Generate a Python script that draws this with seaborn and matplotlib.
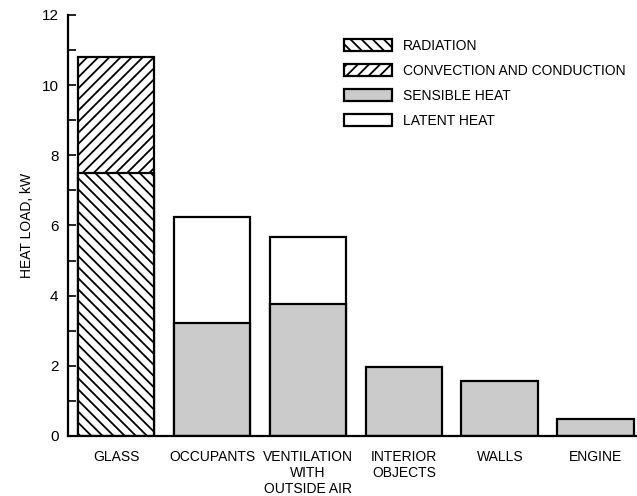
import numpy as np
import pandas as pd
import matplotlib
matplotlib.use("Agg")
import matplotlib.pyplot as plt
from matplotlib.patches import Patch
from matplotlib.ticker import MultipleLocator
import seaborn as sns

# --- DATA ---
categories = ["GLASS", "OCCUPANTS", "VENTILATION\nWITH\nOUTSIDE AIR",
              "INTERIOR\nOBJECTS", "WALLS", "ENGINE"]
lower_values = [7.5, 3.22, 3.75, 1.98, 1.58, 0.48]   # radiation (glass) / sensible heat
upper_values = [3.3, 3.02, 1.93, 0.0, 0.0, 0.0]      # convection+conduction (glass) / latent heat

legend_labels = ["RADIATION", "CONVECTION AND CONDUCTION", "SENSIBLE HEAT", "LATENT HEAT"]

sns.set_style("ticks")
plt.rcParams['font.family'] = ['Liberation Sans Narrow', 'Liberation Sans', 'DejaVu Sans']
plt.rcParams['hatch.linewidth'] = 1.3
for key in ["text.color", "axes.labelcolor", "xtick.color", "ytick.color", "axes.edgecolor"]:
    plt.rcParams[key] = "black"

df = pd.DataFrame({
    "category": categories,
    "lower": lower_values,
    "total": np.array(lower_values) + np.array(upper_values),
})

GRAY = "#cbcbcb"
FS = 10

fig = plt.figure(figsize=(6.37, 4.96), dpi=100)
ax = fig.add_axes([0.107, 0.121, 0.893, 0.849])

# upper segment drawn as the full stack, lower segment on top of it
sns.barplot(data=df, x="category", y="total", color="white", edgecolor="black",
            linewidth=1.6, width=0.8, ax=ax, saturation=1)
n = len(categories)
sns.barplot(data=df, x="category", y="lower", color=GRAY, edgecolor="black",
            linewidth=1.6, width=0.8, ax=ax, saturation=1)

patches = ax.patches
top_bars = patches[:n]
low_bars = patches[n:]
# glass is split into radiation / convection
top_bars[0].set_facecolor("white")
top_bars[0].set_hatch("///")
low_bars[0].set_facecolor("white")
low_bars[0].set_hatch("\\\\\\")
for p in top_bars[3:]:
    p.set_visible(False)

ax.set_ylim(0, 12)
ax.set_xlim(-0.5, 5.43)
ax.yaxis.set_major_locator(MultipleLocator(2))
ax.yaxis.set_minor_locator(MultipleLocator(1))
ax.tick_params(axis="y", which="major", direction="in", length=6, width=1.2,
               labelsize=11, pad=7)
ax.tick_params(axis="y", which="minor", direction="in", length=6, width=1.2)
ax.tick_params(axis="x", length=0, labelsize=FS, pad=10)
ax.set_xlabel("")
ax.set_ylabel("HEAT LOAD, kW", fontsize=FS, labelpad=5)
sns.despine(ax=ax, top=True, right=True)
ax.spines["left"].set_linewidth(1.6)
ax.spines["bottom"].set_linewidth(1.6)

handles = [
    Patch(facecolor="white", edgecolor="black", hatch="\\\\\\", linewidth=1.6),
    Patch(facecolor="white", edgecolor="black", hatch="///", linewidth=1.6),
    Patch(facecolor=GRAY, edgecolor="black", linewidth=1.6),
    Patch(facecolor="white", edgecolor="black", linewidth=1.6),
]
ax.legend(handles, legend_labels, loc="upper left", bbox_to_anchor=(0.463, 0.972),
          frameon=False, fontsize=FS, handlelength=3.45, handleheight=0.95,
          labelspacing=0.78, handletextpad=0.8)

fig.savefig("out.png", dpi=100)
